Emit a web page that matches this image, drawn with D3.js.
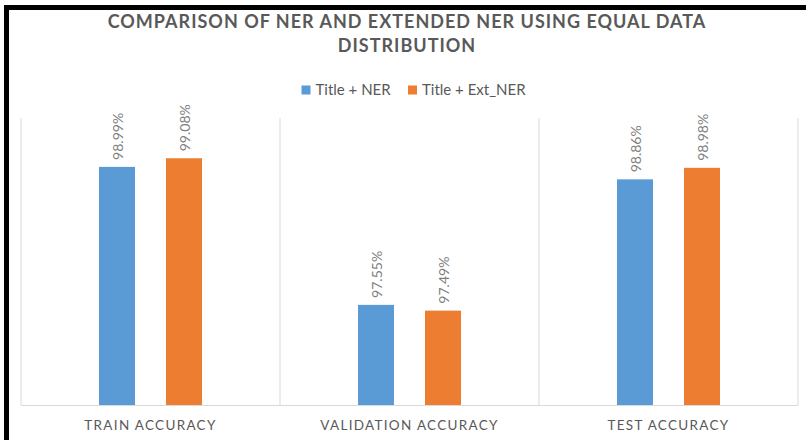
<!DOCTYPE html>
<html>
<head>
<meta charset="utf-8">
<script src="https://cdn.jsdelivr.net/npm/d3@7"></script>
<style>
  body { margin: 0; background: #fff; }
  text { font-family: Lato, "Open Sans", sans-serif; }
</style>
</head>
<body>
<div id="chart"></div>
<script>
// chart values
var categories = ['TRAIN ACCURACY', 'VALIDATION ACCURACY', 'TEST ACCURACY'];
var seriesNames = ['Title + NER', 'Title + Ext_NER'];
var nerValues = [98.99, 97.55, 98.86];
var extNerValues = [99.08, 97.49, 98.98];
var colors = ['#5b9bd5', '#ed7d31'];

var data = categories.map(function(c, i) {
  return { cat: c, vals: [nerValues[i], extNerValues[i]] };
});

var w = 806, h = 440;
var plotLeft = 21, plotRight = 798, plotTop = 118, plotBottom = 405.5;

var svg = d3.select('#chart').append('svg')
  .attr('width', w)
  .attr('height', h);

// frame borders
svg.append('rect').attr('x', 4).attr('y', 5).attr('width', w).attr('height', 5).attr('fill', '#000');
svg.append('rect').attr('x', 4).attr('y', 5).attr('width', 5).attr('height', h).attr('fill', '#000');

var xScale = d3.scaleBand()
  .domain(categories)
  .range([plotLeft, plotRight]);

var inner = d3.scaleBand()
  .domain(seriesNames)
  .range([78, 181])
  .paddingInner(31 / 67);

var yScale = d3.scaleLinear()
  .domain([96.5, 99.5])
  .range([plotBottom, plotTop]);

// vertical separators
var seps = categories.map(function(c) { return xScale(c); }).concat([plotRight]);
svg.selectAll('line.sep')
  .data(seps)
  .enter()
  .append('line')
  .attr('class', 'sep')
  .attr('x1', function(d) { return d; })
  .attr('x2', function(d) { return d; })
  .attr('y1', plotTop)
  .attr('y2', plotBottom)
  .attr('stroke', '#d9d9d9')
  .attr('stroke-width', 1);

// bars
var groups = svg.selectAll('g.cat')
  .data(data)
  .enter()
  .append('g')
  .attr('class', 'cat')
  .attr('transform', function(d) { return 'translate(' + xScale(d.cat) + ',0)'; });

groups.selectAll('rect')
  .data(function(d) { return d.vals.map(function(v, j) { return { s: seriesNames[j], v: v, j: j }; }); })
  .enter()
  .append('rect')
  .attr('x', function(d) { return inner(d.s); })
  .attr('y', function(d) { return yScale(d.v); })
  .attr('width', inner.bandwidth())
  .attr('height', function(d) { return plotBottom - yScale(d.v); })
  .attr('fill', function(d) { return colors[d.j]; });

groups.selectAll('text.val')
  .data(function(d) { return d.vals.map(function(v, j) { return { s: seriesNames[j], v: v, j: j }; }); })
  .enter()
  .append('text')
  .attr('class', 'val')
  .attr('transform', function(d) {
    return 'translate(' + (inner(d.s) + inner.bandwidth() / 2) + ',' + (yScale(d.v) - 7) + ') rotate(-90)';
  })
  .attr('dominant-baseline', 'central')
  .attr('font-size', '14px')
  .attr('fill', '#7f7f7f')
  .text(function(d) { return d.v.toFixed(2) + '%'; });

// x axis baseline + labels
svg.append('line')
  .attr('x1', plotLeft).attr('x2', plotRight)
  .attr('y1', plotBottom).attr('y2', plotBottom)
  .attr('stroke', '#d9d9d9');

var xAxis = d3.axisBottom(xScale).tickSize(0).tickPadding(0);
var xg = svg.append('g')
  .attr('transform', 'translate(0,' + plotBottom + ')')
  .call(xAxis);
xg.select('.domain').remove();
xg.selectAll('text')
  .attr('y', 20)
  .attr('dy', '0.35em')
  .attr('font-size', '13.5px')
  .attr('font-family', 'Lato, sans-serif')
  .attr('letter-spacing', '1.3px')
  .attr('fill', '#595959');

// title
var title = svg.append('text')
  .attr('x', 407)
  .attr('text-anchor', 'middle')
  .attr('font-size', '18px')
  .attr('font-weight', 'bold')
  .attr('letter-spacing', '1px')
  .attr('fill', '#595959');
title.append('tspan').attr('x', 407).attr('y', 28).text('COMPARISON OF NER AND EXTENDED NER USING EQUAL DATA');
title.append('tspan').attr('x', 407).attr('y', 52).text('DISTRIBUTION');

// legend
var legendX = [301.5, 408];
var legend = svg.selectAll('g.legend')
  .data(seriesNames)
  .enter()
  .append('g')
  .attr('class', 'legend')
  .attr('transform', function(d, i) { return 'translate(' + legendX[i] + ',85.5)'; });
legend.append('rect')
  .attr('width', 9).attr('height', 9)
  .attr('fill', function(d, i) { return colors[i]; });
legend.append('text')
  .attr('x', 14)
  .attr('y', 4.5)
  .attr('dy', '0.35em')
  .attr('font-size', '15px')
  .attr('fill', '#595959')
  .text(function(d) { return d; });
</script>
</body>
</html>
